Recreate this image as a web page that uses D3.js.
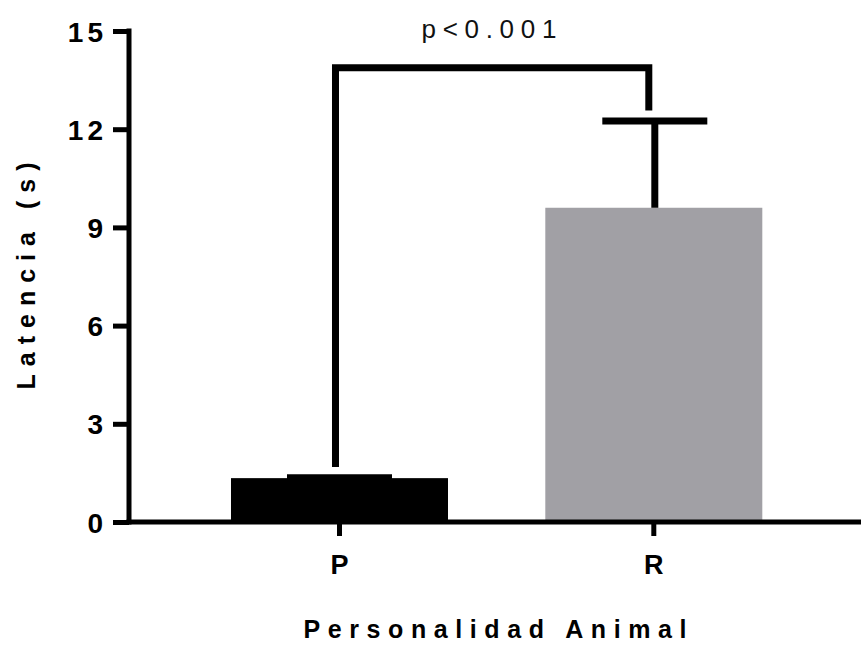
<!DOCTYPE html>
<html><head><meta charset="utf-8">
<script src="https://cdn.jsdelivr.net/npm/d3@7"></script>
<style>body{margin:0;background:#fff}svg{display:block}text{font-family:"Liberation Sans",Arial,sans-serif}</style>
</head><body>
<svg id="c" width="861" height="650"></svg>
<script>
const categories = ["P", "R"];
const means = [1.34, 9.60];
const errors = [0.01, 2.65];
const barColors = ["#000000", "#a1a0a5"];
const yTicks = [0, 3, 6, 9, 12, 15];
const sigLabel = "p<0.001";
const sigHeight = 13.88;
const sigLegBottoms = [1.68, 12.57];

const svg = d3.select("#c");
const FONT = '"Liberation Sans",Arial,sans-serif';
const y = d3.scaleLinear().domain([0, 15]).range([522, 31]);
const x = d3.scaleBand().domain(categories).range([129, 864.3]).paddingInner(0.3096).paddingOuter(0.3245);

// bars
svg.selectAll("rect.bar").data(categories).enter().append("rect")
  .attr("x", d => x(d)).attr("width", x.bandwidth())
  .attr("y", (d,i) => y(means[i])).attr("height", (d,i) => y(0) - y(means[i]))
  .attr("fill", (d,i) => barColors[i]);

// error bars
const capW = 105;
categories.forEach((c,i) => {
  const cx = x(c) + x.bandwidth()/2 + (i===1 ? 1 : 0);
  const top = y(means[i] + errors[i]);
  svg.append("line").attr("x1", cx).attr("x2", cx).attr("y1", y(means[i])).attr("y2", top)
    .attr("stroke", "#000").attr("stroke-width", 7);
  svg.append("line").attr("x1", cx - capW/2).attr("x2", cx + capW/2).attr("y1", top).attr("y2", top)
    .attr("stroke", "#000").attr("stroke-width", 7);
});

// significance bracket
const bx0 = x("P") + x.bandwidth()/2 - 4, bx1 = x("R") + x.bandwidth()/2 - 5;
svg.append("path")
  .attr("d", `M${bx0},${y(sigLegBottoms[0])}V${y(sigHeight)}H${bx1}V${y(sigLegBottoms[1])}`)
  .attr("fill", "none").attr("stroke", "#000").attr("stroke-width", 7).attr("stroke-linejoin", "miter");
svg.append("text").attr("x", 489 + 3.3).attr("y", 38).attr("text-anchor", "middle")
  .attr("font-size", 26).attr("letter-spacing", 6.7).attr("fill", "#111").text(sigLabel);

// y axis
const yAxis = svg.append("g").attr("transform", "translate(129,0)")
  .call(d3.axisLeft(y).tickValues(yTicks).tickSize(16).tickPadding(6).tickSizeOuter(0));
yAxis.select(".domain").attr("stroke", "#000").attr("stroke-width", 5).attr("d", "M0,28.5V524.5");
yAxis.selectAll(".tick line").attr("stroke", "#000").attr("stroke-width", 5);
yAxis.selectAll(".tick text").attr("font-size", 28).attr("font-weight", "bold")
  .attr("letter-spacing", 4).attr("fill", "#000").attr("font-family", FONT).attr("dy", "0.36em");

// x axis
const xAxis = svg.append("g").attr("transform", "translate(0,522)")
  .call(d3.axisBottom(x).tickSize(14).tickPadding(19).tickSizeOuter(0));
xAxis.select(".domain").attr("stroke", "#000").attr("stroke-width", 5).attr("d", "M126.5,0H861");
xAxis.selectAll(".tick line").attr("stroke", "#000").attr("stroke-width", 5);
xAxis.selectAll(".tick text").attr("font-size", 27).attr("font-weight", "bold")
  .attr("fill", "#000").attr("font-family", FONT);

// titles
svg.append("text").attr("transform", "translate(35,276) rotate(-90)").attr("text-anchor", "middle")
  .attr("font-size", 25).attr("font-weight", "bold").attr("letter-spacing", 8).attr("dx", 4).text("Latencia (s)");
svg.append("text").attr("x", 495 + 3.8).attr("y", 638).attr("text-anchor", "middle")
  .attr("font-size", 25).attr("font-weight", "bold").attr("letter-spacing", 7.6).text("Personalidad Animal");
</script>
</body></html>
